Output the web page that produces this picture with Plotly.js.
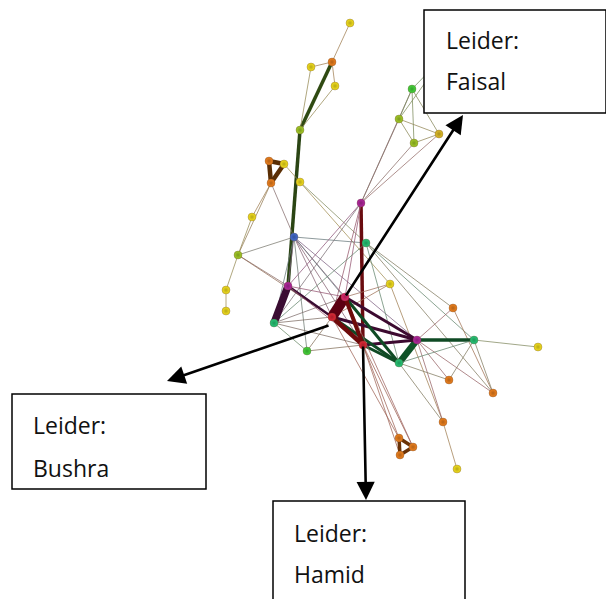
<!DOCTYPE html>
<html><head><meta charset="utf-8">
<script src="https://cdn.plot.ly/plotly-3.0.1.min.js"></script>
<style>html,body{margin:0;padding:0;background:#fff}#chart{width:606px;height:599px}</style>
</head><body><div id="chart"></div>
<script>
// Node names, positions (layout coordinates) and colour groups
const nodeNames = ['A','B','C','D','E','F','G','H','I','J','K','L','M','Y2','N','O','P','Q','R','S','T','U','V','W','X','Y','Z','AA','BB','CC','DD','EE','FF','GG','HH','II','T1','T2','T3','HID'];
const nodeX = [350,332,311,335,300,412,399,414,439,269,284,271,300,252,361,294,366,238,226,226,288,390,345,332,274,307,363,453,417,474,538,399,449,493,443,457,399,413,400,445];
const nodeY = [23,62,67,86,130,89,119,143,134,161,164,183,182,217,203,237,243,255,290,311,286,284,297,317,323,351,345,308,340,340,347,363,380,393,422,469,438,447,455,55];
const nodeGroup = ['yellow','orange','yellow','yellow','lime','green','lime','lime','gold','orange','yellow','orange','yellow','yellow','magenta','blue','teal','lime','yellow','yellow','magenta','yellow','pink','red','teal','green','red','orange','magenta','teal','yellow','teal','orange','orange','orange','yellow','orange','orange','orange','green'];

// Ties: [source, target, strength]
const edges = [
  ['A','B',1],['B','C',1],['B','D',1],['B','E',3],['C','E',1],['D','E',1],['E','T',3],
  ['J','K',4],['K','L',4],['J','L',4],
  ['L','Y2',1],['Y2','Q',1],['L','Q',1],['L','O',1],['K','U',1],['M','P',1],
  ['Q','R',1],['R','S',1],['Q','T',1],['Q','W',1],['Q','O',1],
  ['O','P',1],['O','T',1],['O','X',1],['O','Y',1],['O','V',1],['O','W',1],['O','Z',1],['O','EE',1],['O','BB',1],
  ['N','F',1],['N','G',1],['N','H',1],['N','I',1],['N','Z',3],['T','N',1],['X','N',1],['N','W',1],['N','V',1],
  ['P','CC',1],['P','AA',1],['P','GG',1],['X','P',1],['P','EE',1],
  ['U','V',1],['U','W',1],['U','HH',1],
  ['AA','GG',1],['BB','AA',1],['BB','FF',1],['BB','GG',1],['BB','HH',1],['BB','CC',3],['BB','EE',6],
  ['V','BB',2.5],['W','BB',2.5],['Z','BB',2.5],
  ['V','EE',2.5],['W','EE',2.5],['Z','EE',2.5],['EE','CC',1],['EE','FF',1],['EE','HH',1],
  ['CC','DD',1],['CC','FF',1],['CC','GG',1],['HH','II',1],
  ['Z','T1',1],['Z','T2',1],['Z','T3',1],['W','T1',1],['V','T2',1],
  ['T1','T2',3],['T2','T3',3],['T1','T3',3],
  ['X','T',7],['X','Y',1],['X','V',1],['X','W',1],['X','Z',1],
  ['Y','W',1],['Y','Z',1],
  ['T','V',1],['T','W',2],['T','Z',1],
  ['V','W',10],['V','Z',3.5],['W','Z',4],
  ['F','G',1],['F','H',1],['F','I',1],['G','H',1],['G','I',1],['H','I',1],
  ['F','HID',1],['G','HID',1]
];

// Box labels
const boxTitles = ['Leider:','Leider:','Leider:'];
const boxNames = ['Faisal','Bushra','Hamid'];

const groupColor = {
  yellow:[245,225,30], orange:[240,130,30], gold:[225,190,40], lime:[165,205,40],
  green:[70,215,60], teal:[40,200,120], magenta:[180,40,160], blue:[70,110,210],
  pink:[225,40,110], red:[225,40,55]
};
// colours of the heavy ties
const heavyColor = {
  'B-E':'#2f4a12','E-T':'#2b4514','J-K':'#5a2e04','K-L':'#5a2e04','J-L':'#5a2e04',
  'T1-T2':'#6a3206','T2-T3':'#6a3206','T1-T3':'#6a3206',
  'X-T':'#3a0c32','T-W':'#3a0c32','N-Z':'#6a0c10',
  'V-W':'#5c0012','V-Z':'#6e0a0a','W-Z':'#6e0a0a',
  'V-BB':'#3c0a30','W-BB':'#3c0a30','Z-BB':'#3c0a30',
  'V-EE':'#0f4a24','W-EE':'#0f4a24','Z-EE':'#0f4a24','BB-EE':'#0f5228','BB-CC':'#0f4a24'
};
const idx = {}; nodeNames.forEach((n,i)=>idx[n]=i);
const rgb = c => `rgb(${c[0]},${c[1]},${c[2]})`;

const traces = [];
edges.forEach(e=>{
  const a = idx[e[0]], b = idx[e[1]], w = e[2];
  const ca = groupColor[nodeGroup[a]], cb = groupColor[nodeGroup[b]];
  const m = [0,1,2].map(j => (ca[j]+cb[j])/2);
  let col;
  if (w <= 1) {
    const g = [125,105,105];
    const mix = m.map((v,j)=>Math.round(v*0.3+g[j]*0.7));
    col = `rgba(${mix[0]},${mix[1]},${mix[2]},0.75)`;
  } else {
    col = heavyColor[e[0]+'-'+e[1]] || rgb(m.map(v=>Math.round(v*0.3)));
  }
  traces.push({type:'scatter',mode:'lines',x:[nodeX[a],nodeX[b]],y:[nodeY[a],nodeY[b]],
    line:{color:col,width:w>1?w+0.5:w},hoverinfo:'skip',showlegend:false});
});
traces.push({type:'scatter',mode:'markers',x:nodeX,y:nodeY,text:nodeNames,hoverinfo:'text',showlegend:false,
  marker:{size:8,color:nodeGroup.map(g=>rgb(groupColor[g])),
    gradient:{type:'radial',color:nodeGroup.map(g=>rgb(groupColor[g].map(v=>Math.round(v*0.75))))},
    line:{width:0.5,color:'rgba(90,60,40,0.6)'}}});

const boxes = [[424,10,606,113],[12,394,206,489],[273,501,465,603]];
const shapes = boxes.map(b=>({type:'rect',xref:'x',yref:'y',x0:b[0],y0:b[1],x1:b[2],y1:b[3],
  fillcolor:'white',line:{color:'black',width:1.5},layer:'above'}));

const fontSpec = {family:'"Open Sans", sans-serif',size:23,color:'#111'};
const annotations = [];
const textPos = [[444,40,81],[31,425,468],[292,533,574]];
textPos.forEach((p,i)=>{
  annotations.push({x:p[0],y:p[1],xref:'x',yref:'y',text:boxTitles[i],showarrow:false,xanchor:'left',yanchor:'middle',font:fontSpec});
  annotations.push({x:p[0],y:p[2],xref:'x',yref:'y',text:boxNames[i],showarrow:false,xanchor:'left',yanchor:'middle',font:fontSpec});
});
// arrows from leaders to boxes
const arrows = [['V',463,115],['W',167,381],['Z',366,500]];
arrows.forEach(a=>{
  const i = idx[a[0]];
  annotations.push({x:a[1],y:a[2],ax:nodeX[i]+(a[0]==='W'?-2:0),ay:nodeY[i]+(a[0]==='W'?8:0),xref:'x',yref:'y',axref:'x',ayref:'y',
    text:'',showarrow:true,arrowhead:2,arrowsize:1.4,arrowwidth:2.6,arrowcolor:'black',standoff:0,startstandoff:0});
});

const layout = {width:606,height:599,margin:{l:0,r:0,t:0,b:0},paper_bgcolor:'white',plot_bgcolor:'white',
  xaxis:{range:[0,606],visible:false,fixedrange:true},
  yaxis:{range:[599,0],visible:false,fixedrange:true},
  shapes:shapes,annotations:annotations,showlegend:false};
Plotly.newPlot('chart',traces,layout,{displayModeBar:false,staticPlot:true});
</script></body></html>
